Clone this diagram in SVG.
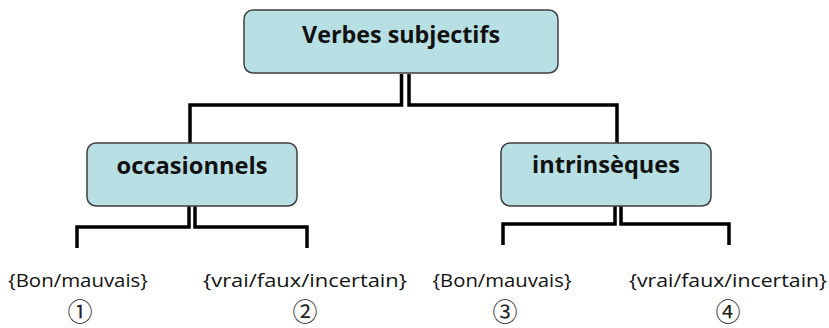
<svg xmlns="http://www.w3.org/2000/svg" width="829" height="328" viewBox="0 0 829 328">
<style>
.box{fill:#b8dfe3;stroke:#3f3f3f;stroke-width:1.5}
.conn{fill:none;stroke:#000;stroke-width:3.5;stroke-linejoin:miter}
.t{font-family:"Open Sans","Liberation Sans",sans-serif;font-weight:bold;fill:#111;text-anchor:middle}
.l{font-family:"Open Sans","Liberation Sans",sans-serif;font-size:18.5px;fill:#111;text-anchor:middle}
.n{font-family:"Noto Sans CJK JP","DejaVu Sans",sans-serif;font-size:25px;fill:#222;text-anchor:middle}
</style>
<g id="connectors">
<path class="conn" d="M401.5,74 V105 H190 V143"/>
<path class="conn" d="M409,74 V105 H617 V143"/>
<path class="conn" d="M189,206 V227 H77 V248"/>
<path class="conn" d="M195,206 V227 H307 V248"/>
<path class="conn" d="M615,206 V224 H503 V245"/>
<path class="conn" d="M621,206 V224 H729 V245"/>
</g>
<g id="root">
<rect class="box" x="244" y="10" width="314" height="63" rx="9"/>
<text class="t" x="401" y="43" font-size="24" textLength="198" lengthAdjust="spacingAndGlyphs">Verbes subjectifs</text>
</g>
<g id="occasionnels">
<rect class="box" x="87" y="143" width="210" height="63" rx="9"/>
<text class="t" x="192" y="174" font-size="23" textLength="151" lengthAdjust="spacingAndGlyphs">occasionnels</text>
</g>
<g id="intrinseques">
<rect class="box" x="501" y="143" width="210" height="63" rx="9"/>
<text class="t" x="606" y="173" font-size="23" textLength="148" lengthAdjust="spacingAndGlyphs">intrinsèques</text>
</g>
<g id="leaf1">
<text class="l" x="78" y="287" textLength="140" lengthAdjust="spacingAndGlyphs">{Bon/mauvais}</text>
<text class="n" x="80" y="321">①</text>
</g>
<g id="leaf2">
<text class="l" x="305" y="287" textLength="204" lengthAdjust="spacingAndGlyphs">{vrai/faux/incertain}</text>
<text class="n" x="305" y="321">②</text>
</g>
<g id="leaf3">
<text class="l" x="502" y="287" textLength="139" lengthAdjust="spacingAndGlyphs">{Bon/mauvais}</text>
<text class="n" x="505" y="321">③</text>
</g>
<g id="leaf4">
<text class="l" x="728" y="287" textLength="198" lengthAdjust="spacingAndGlyphs">{vrai/faux/incertain}</text>
<text class="n" x="728" y="321">④</text>
</g>
</svg>
